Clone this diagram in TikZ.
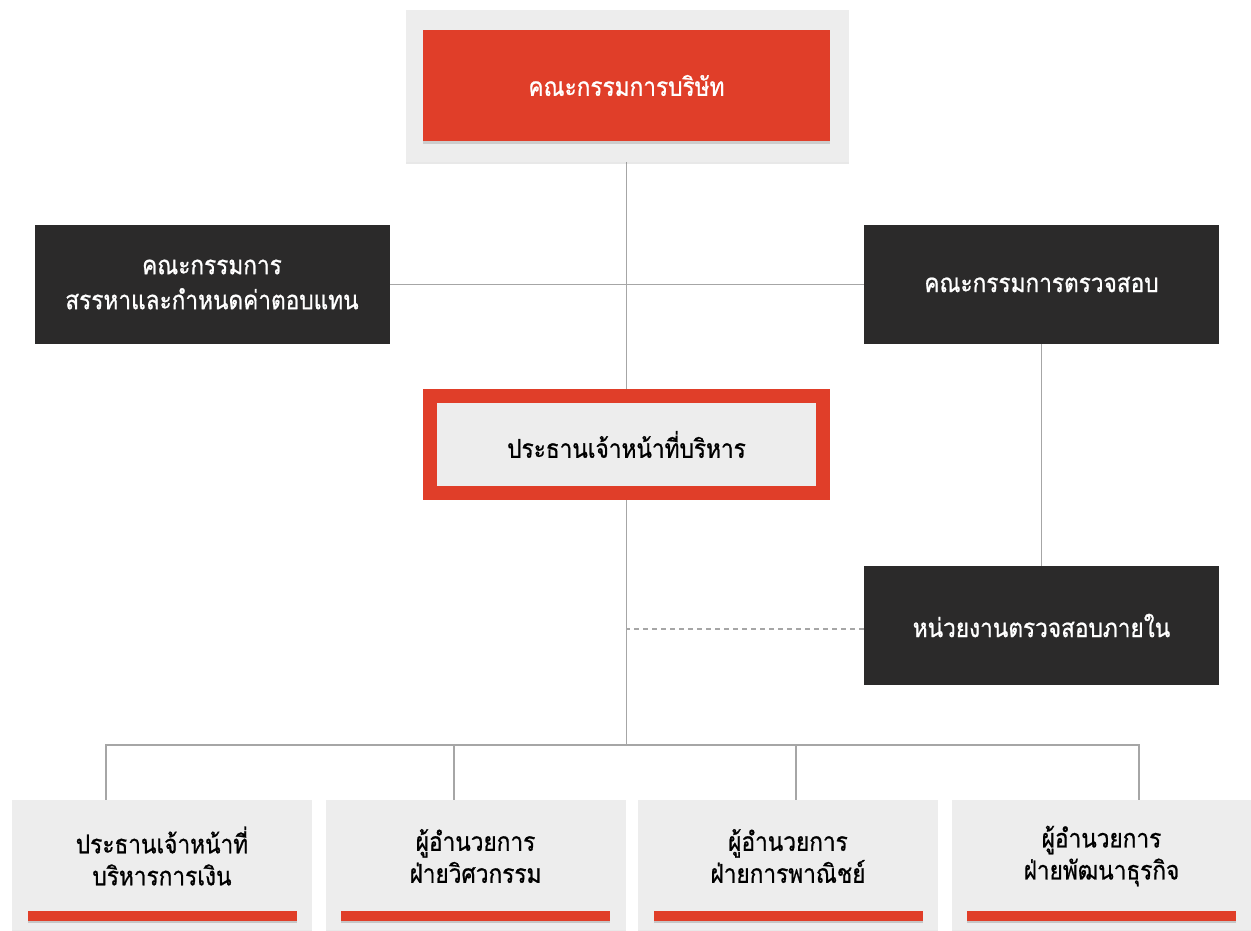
\documentclass[tikz,border=0pt]{standalone}
\usepackage{fontspec}
\newfontfamily\thaifont[Script=Thai,FakeStretch=0.87,FakeBold=0.8]{Loma}
\usetikzlibrary{shadows,backgrounds}
\definecolor{orgred}{HTML}{E03E29}
\definecolor{orgdark}{HTML}{2B2A2A}
\definecolor{orgpaper}{HTML}{EDEDED}
\definecolor{orgline}{HTML}{A6A6A6}
\tikzset{
  % boxes of the chart: paper, red, dark
  paper node/.style={rectangle,fill=orgpaper,inner sep=0,
    drop shadow={opacity=0.18,shadow xshift=0pt,shadow yshift=-2pt}},
  red node/.style={rectangle,fill=orgred,text=white,inner sep=0,
    font=\thaifont\fontsize{26}{34}\selectfont,
    drop shadow={opacity=0.3,shadow xshift=0pt,shadow yshift=-3pt}},
  dark node/.style={rectangle,fill=orgdark,text=white,inner sep=0,align=center,
    minimum width=355pt,minimum height=119pt,
    font=\thaifont\fontsize{26}{35}\selectfont},
  ceo node/.style={rectangle,fill=orgpaper,draw=orgred,line width=14pt,inner sep=0,
    minimum width=393pt,minimum height=97pt,
    font=\thaifont\fontsize{26}{34}\selectfont,
    drop shadow={opacity=0.3,shadow xshift=0pt,shadow yshift=-3pt}},
  dept node/.style={paper node,minimum width=300pt,minimum height=130pt},
  dept text/.style={align=center,inner sep=0,font=\thaifont\fontsize{26}{32}\selectfont},
  red bar/.style={rectangle,fill=orgred,inner sep=0,minimum width=269pt,minimum height=10pt,
    drop shadow={opacity=0.35,shadow xshift=0pt,shadow yshift=-2pt}},
  link/.style={draw=orgline,line width=1.4pt}
}

\begin{document}
\begin{tikzpicture}[x=1pt,y=-1pt]
\useasboundingbox (0,0) rectangle (1251,930);

% board
\node[paper node,minimum width=443pt,minimum height=152pt] (boardbg) at (627,86) {};
\node[red node,minimum width=407pt,minimum height=111pt] (board) at (626.5,85.5) {คณะกรรมการบริษัท};

% committees
\node[dark node] (nomination) at (212,284.5) {คณะกรรมการ\\สรรหาและกำหนดค่าตอบแทน};
\node[dark node] (auditc) at (1041.5,284.5) {คณะกรรมการตรวจสอบ};
\node[ceo node] (ceo) at (626.5,444.5) {ประธานเจ้าหน้าที่บริหาร};
\node[dark node] (audit) at (1041.5,625.5) {หน่วยงานตรวจสอบภายใน};

% departments
\node[dept node] (cfo) at (162,865) {};
\node[dept node] (eng) at (475.5,865) {};
\node[dept node] (com) at (788,865) {};
\node[dept node] (bizdev) at (1101.5,865) {};
\node[dept text] at ([yshift=9pt]cfo.center) {ประธานเจ้าหน้าที่\\บริหารการเงิน};
\node[dept text] at ([yshift=9pt]eng.center) {ผู้อำนวยการ\\ฝ่ายวิศวกรรม};
\node[dept text] at ([yshift=9pt]com.center) {ผู้อำนวยการ\\ฝ่ายการพาณิชย์};
\node[dept text] at ([yshift=9pt]bizdev.center) {ผู้อำนวยการ\\ฝ่ายพัฒนาธุรกิจ};
\node[red bar] at ([yshift=14pt]cfo.south) {};
\node[red bar] at ([yshift=14pt]eng.south) {};
\node[red bar] at ([yshift=14pt]com.south) {};
\node[red bar] at ([yshift=14pt]bizdev.south) {};

\coordinate (bus) at (626.5,745);
\coordinate (d1) at (106,800);
\coordinate (d2) at (454,800);
\coordinate (d3) at (796,800);
\coordinate (d4) at (1139,800);

\begin{pgfonlayer}{background}
\draw[link] (ceo.north |- boardbg.south) -- (ceo.north);
\draw[link] (nomination.east) -- (auditc.west);
\draw[link] (auditc.south) -- (audit.north);
\draw[link] (ceo.south) -- (bus);
\draw[link,dash pattern=on 5pt off 4pt] ([yshift=-3.5pt]audit.west) -- ([yshift=-3.5pt]audit.west -| ceo.south);
\draw[link] (d1) |- (bus);
\draw[link] (d2) |- (bus);
\draw[link] (d3) |- (bus);
\draw[link] (d4) |- (bus);
\end{pgfonlayer}
\end{tikzpicture}
\end{document}
